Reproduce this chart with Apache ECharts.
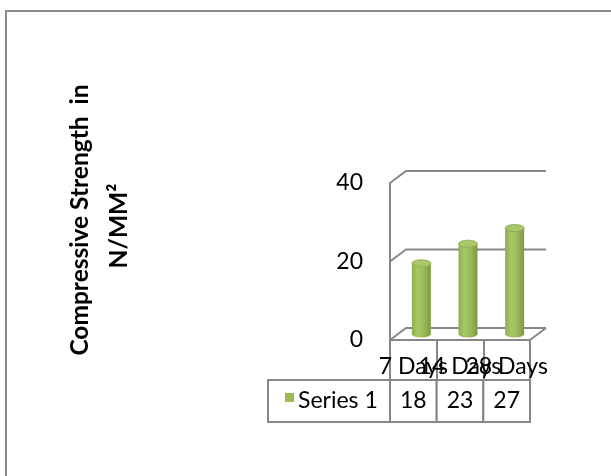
<!DOCTYPE html>
<html><head><meta charset="utf-8">
<script src="https://cdn.jsdelivr.net/npm/echarts@6/dist/echarts.min.js"></script>
<style>html,body{margin:0;padding:0;background:#fff}#c{width:611px;height:476px}</style>
</head><body><div id="c"></div>
<script>
const categories = ['7 Days', '14 Days', '28 Days'];
const values = [18, 23, 27];
const seriesName = 'Series 1';
const yTicks = [0, 20, 40];
const axisTitleLines = ['Compressive Strength  in', 'N/MM²'];

const FONT = 'Lato';
const GRAY = '#878787';
const DX = 16, DY = -12;
const ROW1 = 40, ROW2 = 42;
const FS = 23;

const chart = echarts.init(document.getElementById('c'), null, {renderer: 'canvas'});

function cylGrad() {
  return new echarts.graphic.LinearGradient(0, 0, 1, 0, [
    {offset: 0, color: '#8fae4f'},
    {offset: 0.3, color: '#a8c766'},
    {offset: 0.6, color: '#9dbc5b'},
    {offset: 1, color: '#7c9a3f'}
  ]);
}

const option = {
  animation: false,
  backgroundColor: '#fff',
  grid: {left: 390, right: 81, top: 183, bottom: 136},
  xAxis: {
    type: 'category', data: categories,
    axisLine: {show: true, lineStyle: {color: GRAY, width: 2}},
    axisTick: {show: true, length: ROW1, lineStyle: {color: GRAY, width: 2}},
    axisLabel: {interval: 0, fontFamily: FONT, fontSize: FS, color: '#000', margin: 15},
    splitLine: {show: false}
  },
  yAxis: {
    type: 'value', min: 0, max: 40, interval: 20,
    axisLine: {show: true, lineStyle: {color: GRAY, width: 2}},
    axisTick: {show: false}, splitLine: {show: false},
    axisLabel: {fontFamily: FONT, fontSize: FS, color: '#000', margin: 27}
  },
  graphic: [
    {type: 'rect', z: -10, shape: {x: 6, y: 11, width: 700, height: 600}, style: {fill: 'none', stroke: '#8b8b8b', lineWidth: 2}},
    {type: 'text', rotation: Math.PI / 2, x: 80, y: 220, style: {text: axisTitleLines[0], fontFamily: FONT, fontWeight: 'bold', fontSize: 24.5, fill: '#000', align: 'center', verticalAlign: 'middle'}},
    {type: 'text', rotation: Math.PI / 2, x: 119, y: 226, style: {text: axisTitleLines[1], fontFamily: FONT, fontWeight: 'bold', fontSize: 24.5, fill: '#000', align: 'center', verticalAlign: 'middle'}},
    {type: 'rect', shape: {x: 268, y: 380, width: 122, height: ROW2}, style: {fill: '#fff', stroke: GRAY, lineWidth: 2}},
    {type: 'rect', shape: {x: 285, y: 393, width: 9, height: 9}, style: {fill: '#9bbb59'}},
    {type: 'text', x: 298, y: 401, style: {text: seriesName, fontFamily: FONT, fontSize: FS, fill: '#000', align: 'left', verticalAlign: 'middle'}}
  ],
  series: [
    {
      type: 'custom', name: 'walls', silent: true, clip: false,
      data: yTicks.map(v => [0, v]),
      encode: {x: 0, y: 1},
      renderItem(params, api) {
        const cs = params.coordSys;
        const v = api.value(1);
        const y = api.coord([0, v])[1];
        const x0 = cs.x, x1 = cs.x + cs.width;
        const children = [{type: 'polyline', shape: {points: [[x0, y], [x0 + DX, y + DY], [x1 + DX, y + DY]]}, style: {stroke: GRAY, lineWidth: 2, fill: null}}];
        if (v === 0) children.push({type: 'line', shape: {x1: x1, y1: y, x2: x1 + DX, y2: y + DY}, style: {stroke: GRAY, lineWidth: 2}});
        return {type: 'group', children};
      }
    },
    {
      type: 'custom', name: seriesName, clip: false,
      data: values.map((v, i) => [i, v]),
      encode: {x: 0, y: 1},
      renderItem(params, api) {
        const idx = api.value(0), v = api.value(1);
        const top = api.coord([idx, v]), base = api.coord([idx, 0]);
        const cx = top[0] + DX / 2, ty = top[1] + DY / 2, by = base[1] + DY / 2;
        const rx = 9.5, ry = 3.5;
        return {type: 'group', children: [
          {type: 'ellipse', shape: {cx: cx, cy: by, rx: rx, ry: ry}, style: {fill: cylGrad()}},
          {type: 'rect', shape: {x: cx - rx, y: ty, width: 2 * rx, height: by - ty}, style: {fill: cylGrad()}},
          {type: 'ellipse', shape: {cx: cx, cy: ty, rx: rx, ry: ry}, style: {fill: '#a9c76c', stroke: '#8aa84c', lineWidth: 0.8}}
        ]};
      }
    },
    {
      type: 'custom', name: 'table', silent: true, clip: false,
      data: values.map((v, i) => [i, v]),
      encode: {x: 0, y: 1},
      renderItem(params, api) {
        const idx = api.value(0), v = api.value(1);
        const c = api.coord([idx, 0]);
        const w = api.size([1, 0])[0];
        const rowTop = c[1] + ROW1;
        return {type: 'group', children: [
          {type: 'rect', shape: {x: c[0] - w / 2, y: rowTop, width: w, height: ROW2}, style: {fill: '#fff', stroke: GRAY, lineWidth: 2}},
          {type: 'text', style: {text: String(v), x: c[0], y: rowTop + ROW2 / 2, align: 'center', verticalAlign: 'middle', fontFamily: FONT, fontSize: FS, fill: '#000'}}
        ]};
      }
    }
  ]
};
chart.setOption(option);
</script></body></html>
